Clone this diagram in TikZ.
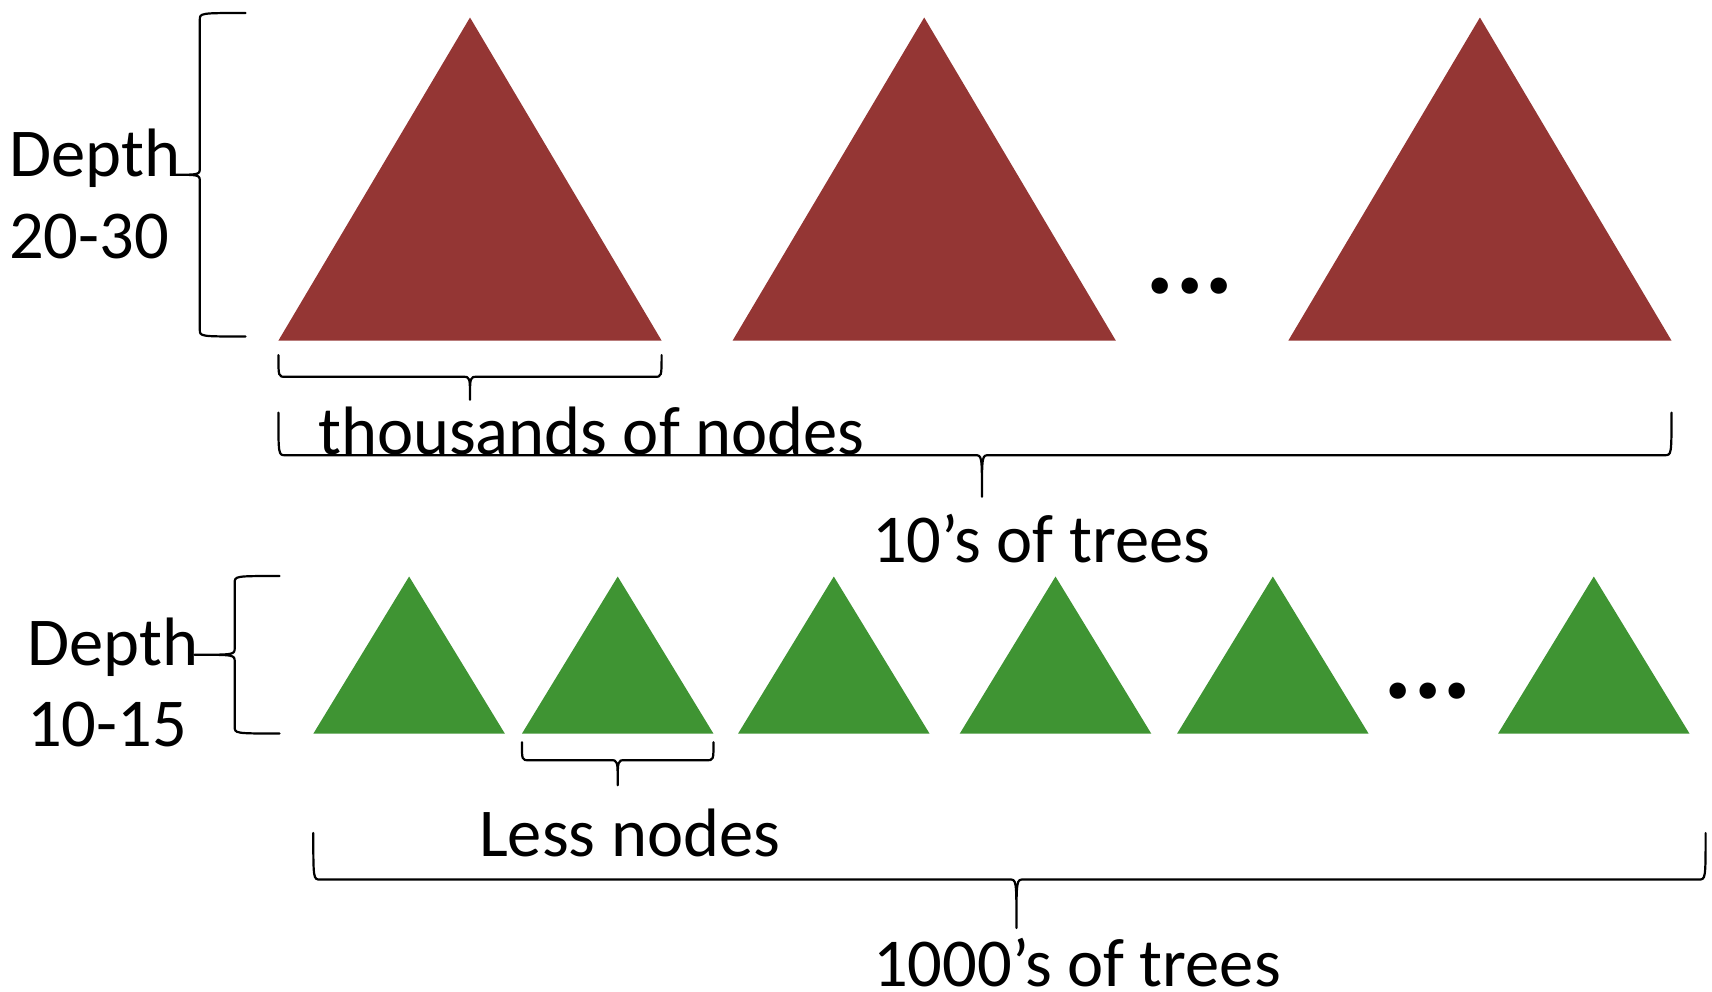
\documentclass[tikz,border=0pt]{standalone}
\usepackage{fontspec}
\setmainfont{Carlito}
\usetikzlibrary{calc}

\definecolor{treered}{HTML}{943634}
\definecolor{treegreen}{HTML}{3F9433}

\begin{document}
\begin{tikzpicture}[
    x=1pt, y=-1pt,
    midshift/.store in=\midshift, midshift=0pt,
    note/.style={inner sep=0, anchor=base west, font=\fontsize{68.5}{81.6}\selectfont},
    dotsrow/.style={inner sep=0, anchor=base west, font=\fontsize{110}{120}\selectfont\bfseries},
    bline/.style={line width=2.2pt, line cap=round},
    hbrace/.style 2 args={to path={
        let \p1=(\tikztostart), \p2=(\tikztotarget), \p3=($(\p1)!.5!(\p2)$) in
        (\p1) .. controls (\x1,\y1-#1) .. (\x1+7pt,\y1-#1) -- (\x3+\midshift-7pt,\y1-#1)
        .. controls (\x3+\midshift,\y1-#1) .. (\x3+\midshift,\y1-#2)
        (\p2) .. controls (\x2,\y2-#1) .. (\x2-7pt,\y2-#1) -- (\x3+\midshift+7pt,\y2-#1)
        .. controls (\x3+\midshift,\y2-#1) .. (\x3+\midshift,\y2-#2)}},
    vbrace/.style 2 args={to path={
        let \p1=(\tikztostart), \p2=(\tikztotarget), \p3=($(\p1)!.5!(\p2)$) in
        (\p1) .. controls (\x1-#1,\y1) .. (\x1-#1,\y1-7pt) -- (\x1-#1,\y3+7pt)
        .. controls (\x1-#1,\y3) .. (\x1-#2,\y3)
        (\p2) .. controls (\x2-#1,\y2) .. (\x2-#1,\y2+7pt) -- (\x2-#1,\y3-7pt)
        .. controls (\x2-#1,\y3) .. (\x2-#2,\y3)}}
]
    \useasboundingbox (0,0) rectangle (1712,991);

    % Big trees
    \foreach \name/\lx in {r1/278.4, r2/732.6, r3/1288.3}
        \fill[treered] (\lx,340.6) coordinate (\name l) -- (\lx+191.6,17.5) coordinate (\name t)
            -- (\lx+383.2,340.6) coordinate (\name r) -- cycle;

    % Small trees
    \foreach \name/\lx in {g1/313.3, g2/521.9, g3/738, g4/959.7, g5/1177, g6/1498}
        \fill[treegreen] (\lx,733.7) coordinate (\name l) -- (\lx+95.8,576.5) coordinate (\name t)
            -- (\lx+191.6,733.7) coordinate (\name r) -- cycle;

    % Dots
    \node[dotsrow] (moreR) at (1145.5,293) {...};
    \node[dotsrow] (moreG) at (1383.5,698) {...};

    % Labels
    \node[note, align=left] (depthR) at (9,258.3) {Depth\\20-30};
    \node[note, align=left] (depthG) at (27,746.7) {Depth\\10-15};
    \node[note] (nodesR) at (318,454) {thousands of nodes};
    \node[note] (treesR) at (872,562) {10’s of trees};
    \node[note] (nodesG) at (479,856) {Less nodes};
    \node[note] (treesG) at (873,986) {1000’s of trees};

    % Braces
    \coordinate (depthRtop) at (245.6,13);
    \coordinate (depthRbot) at (245.6,336.5);
    \coordinate (depthGtop) at (279.5,576);
    \coordinate (depthGbot) at (279.5,733.5);
    \draw[bline] (depthRtop) to[vbrace={45.8pt}{73pt}] (depthRbot);
    \draw[bline] (depthGtop) to[vbrace={44.8pt}{85pt}] (depthGbot);
    \draw[bline] ($(r1l)+(0,14.5)$) to[hbrace={21.7pt}{44.6pt}] ($(r1r)+(0,14.5)$);
    \draw[bline, midshift=7pt] ($(r1l)+(0,72)$) to[hbrace={42.6pt}{84.1pt}] ($(r3r)+(0,72)$);
    \draw[bline] ($(g2l)+(0,8.5)$) to[hbrace={18pt}{43pt}] ($(g2r)+(0,8.5)$);
    \draw[bline, midshift=7pt] ($(g1l)+(0,99.3)$) to[hbrace={46.5pt}{95pt}] ($(g6r)+(16,99.3)$);
\end{tikzpicture}
\end{document}
